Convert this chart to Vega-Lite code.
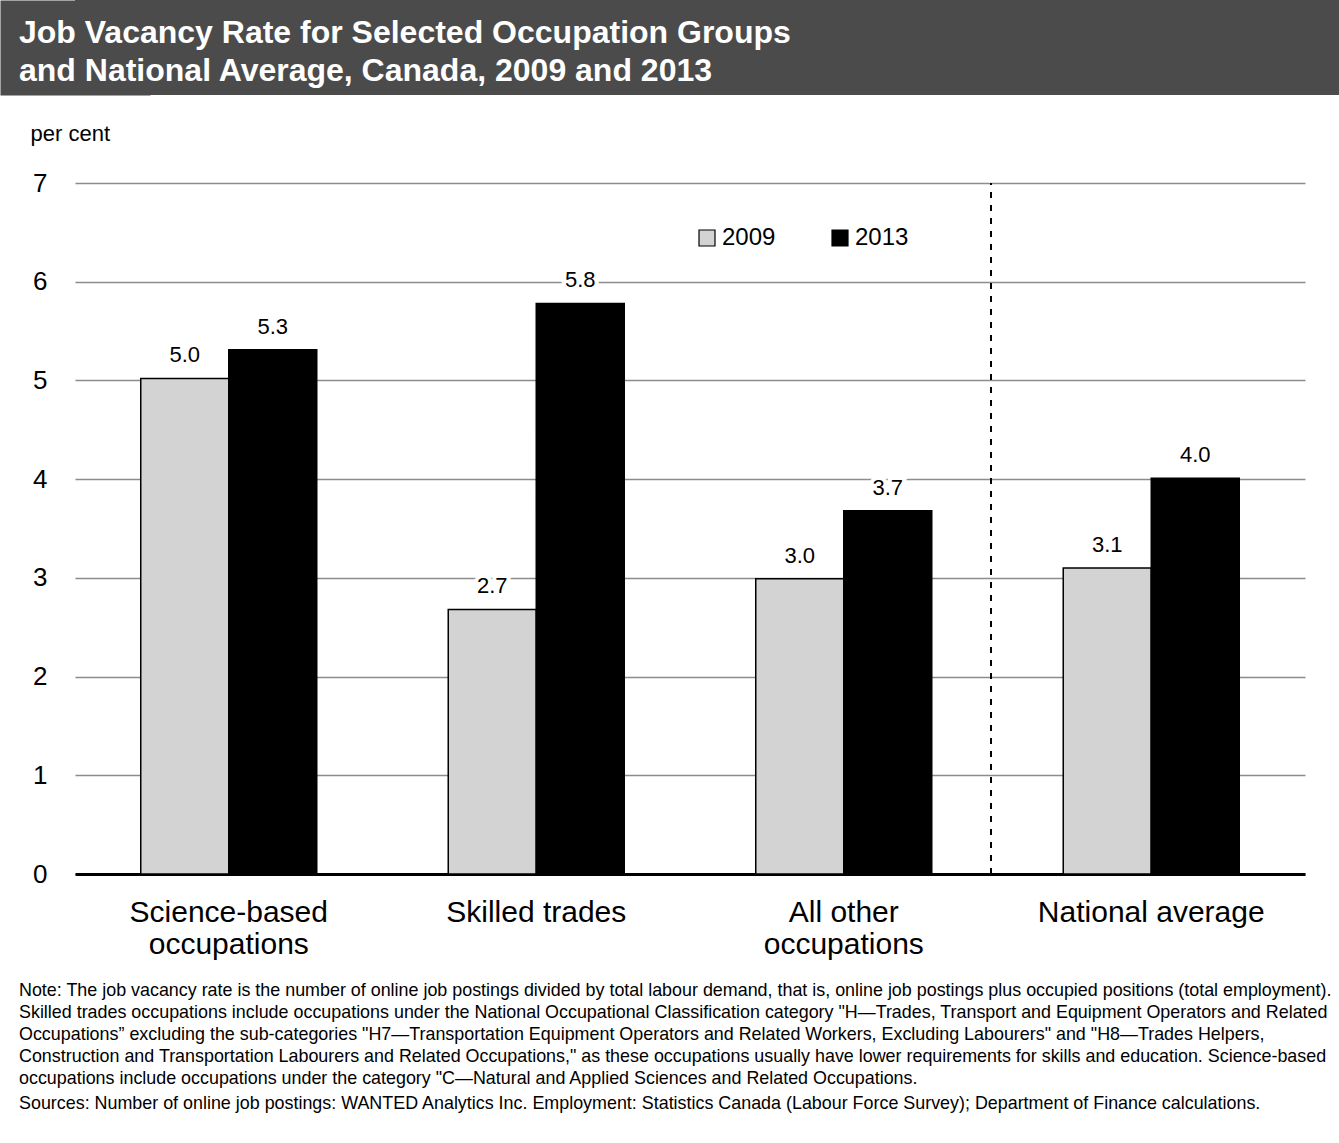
{
  "$schema": "https://vega.github.io/schema/vega-lite/v6.json",
  "padding": 0,
  "background": "white",
  "spacing": 27,
  "columns": 1,
  "align": "none",
  "config": {
    "font": "Liberation Sans",
    "view": {"stroke": null}
  },
  "concat": [
    {
      "width": 1264,
      "height": 95,
      "view": {"fill": "#4b4b4b", "stroke": null},
      "title": {
        "text": ["Job Vacancy Rate for Selected Occupation Groups", "and National Average, Canada, 2009 and 2013"],
        "anchor": "start",
        "frame": "group",
        "orient": "top",
        "offset": -88,
        "dx": -56,
        "color": "white",
        "fontSize": 32,
        "fontWeight": "bold",
        "lineHeight": 38
      },
      "data": {"values": [{}]},
      "mark": {"type": "text", "text": ""},
      "encoding": {
        "y": {
          "datum": 0.5,
          "type": "quantitative",
          "scale": {"domain": [0, 1]},
          "axis": {
            "title": null,
            "labels": false,
            "ticks": false,
            "grid": false,
            "domain": true,
            "domainColor": "#4b4b4b",
            "domainWidth": 150,
            "domainCap": "butt"
          }
        }
      }
    },
    {
      "width": 1230,
      "height": 691,
      "data": {
        "values": [
          {"cat": "Science-based occupations", "year": "2009", "rate": 5.02},
          {"cat": "Science-based occupations", "year": "2013", "rate": 5.31},
          {"cat": "Skilled trades", "year": "2009", "rate": 2.68},
          {"cat": "Skilled trades", "year": "2013", "rate": 5.78},
          {"cat": "All other occupations", "year": "2009", "rate": 2.99},
          {"cat": "All other occupations", "year": "2013", "rate": 3.68},
          {"cat": "National average", "year": "2009", "rate": 3.10},
          {"cat": "National average", "year": "2013", "rate": 4.01}
        ]
      },
      "title": {
        "text": [
          "Note: The job vacancy rate is the number of online job postings divided by total labour demand, that is, online job postings plus occupied positions (total employment).",
          "Skilled trades occupations include occupations under the National Occupational Classification category \"H\u2014Trades, Transport and Equipment Operators and Related",
          "Occupations\u201d excluding the sub-categories \"H7\u2014Transportation Equipment Operators and Related Workers, Excluding Labourers\" and \"H8\u2014Trades Helpers,",
          "Construction and Transportation Labourers and Related Occupations,\" as these occupations usually have lower requirements for skills and education. Science-based",
          "occupations include occupations under the category \"C\u2014Natural and Applied Sciences and Related Occupations."
        ],
        "subtitle": "Sources: Number of online job postings: WANTED Analytics Inc. Employment: Statistics Canada (Labour Force Survey); Department of Finance calculations.",
        "orient": "bottom",
        "anchor": "start",
        "frame": "bounds",
        "dx": 19,
        "offset": 23,
        "fontSize": 17.9,
        "fontWeight": "normal",
        "lineHeight": 22,
        "color": "black",
        "subtitleFontSize": 17.9,
        "subtitleColor": "black",
        "subtitlePadding": 7
      },
      "encoding": {
        "x": {
          "field": "cat",
          "type": "nominal",
          "sort": null,
          "scale": {"paddingInner": 0.4276, "paddingOuter": 0.2138},
          "axis": {
            "title": null,
            "domainColor": "black",
            "domainWidth": 3,
            "ticks": false,
            "labelFontSize": 30,
            "labelColor": "black",
            "labelAngle": 0,
            "labelPadding": 23,
            "labelLineHeight": 32,
            "labelLimit": 0,
            "labelExpr": "datum.value == 'Science-based occupations' ? ['Science-based', 'occupations'] : datum.value == 'All other occupations' ? ['All other', 'occupations'] : datum.value"
          }
        }
      },
      "layer": [
        {
          "mark": {"type": "bar", "stroke": "black", "strokeWidth": 1.5},
          "encoding": {
            "xOffset": {"field": "year", "type": "nominal", "scale": {"paddingInner": 0, "paddingOuter": 0}},
            "y": {
              "field": "rate",
              "type": "quantitative",
              "scale": {"domain": [0, 7]},
              "axis": {
                "values": [0, 1, 2, 3, 4, 5, 6, 7],
                "format": "d",
                "domain": false,
                "ticks": false,
                "grid": true,
                "gridColor": "#8c8c8c",
                "gridWidth": 1.6,
                "labelFontSize": 26,
                "labelColor": "black",
                "labelPadding": 28,
                "minExtent": 75,
                "title": "per cent",
                "titleAngle": 0,
                "titleX": -45,
                "titleY": -50,
                "titleAlign": "left",
                "titleBaseline": "middle",
                "titleFontSize": 22,
                "titleFontWeight": "normal",
                "titleColor": "black"
              }
            },
            "color": {
              "field": "year",
              "type": "nominal",
              "scale": {"domain": ["2009", "2013"], "range": ["#d3d3d3", "#000000"]},
              "legend": {
                "title": null,
                "orient": "none",
                "legendX": 620,
                "legendY": 226,
                "direction": "horizontal",
                "padding": 0,
                "symbolType": "square",
                "symbolSize": 256,
                "symbolStrokeColor": "black",
                "symbolStrokeWidth": 1.2,
                "labelFontSize": 24,
                "labelColor": "black",
                "labelOffset": 3,
                "columnPadding": 52
              }
            }
          }
        },
        {
          "mark": {"type": "text", "stroke": "white", "strokeWidth": 8, "fill": "white", "fontSize": 22, "baseline": "alphabetic", "dy": -16},
          "encoding": {
            "xOffset": {"field": "year", "type": "nominal"},
            "y": {"field": "rate", "type": "quantitative"},
            "text": {"field": "rate", "type": "quantitative", "format": ".1f"}
          }
        },
        {
          "mark": {"type": "text", "color": "black", "fontSize": 22, "baseline": "alphabetic", "dy": -16},
          "encoding": {
            "xOffset": {"field": "year", "type": "nominal"},
            "y": {"field": "rate", "type": "quantitative"},
            "text": {"field": "rate", "type": "quantitative", "format": ".1f"}
          }
        },
        {
          "mark": {"type": "rule", "color": "black", "strokeWidth": 1.5, "strokeDash": [6, 7]},
          "encoding": {
            "x": {"datum": "National average", "bandPosition": -0.41},
            "y": {"datum": 0},
            "y2": {"datum": 7}
          }
        }
      ]
    }
  ]
}
